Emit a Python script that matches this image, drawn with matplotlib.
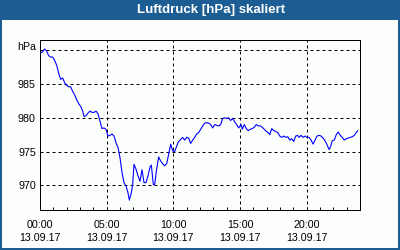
import matplotlib
matplotlib.use("Agg")
import matplotlib.pyplot as plt
from matplotlib.patches import Rectangle
from matplotlib.ticker import MultipleLocator, FixedLocator

# pressure readings, 13.09.17 (hours since midnight, hPa)
hours = [
    0.05, 0.20, 0.35, 0.50, 0.65, 0.80, 0.95, 1.10, 1.25, 1.40, 1.55, 1.70, 1.85, 2.00,
    2.15, 2.30, 2.45, 2.60, 2.75, 2.90, 3.05, 3.20, 3.30, 3.45, 3.60, 3.75, 3.90, 4.05,
    4.20, 4.35, 4.50, 4.65, 4.80, 4.95, 5.10, 5.25, 5.40, 5.55, 5.70, 5.85, 6.00, 6.15,
    6.30, 6.45, 6.60, 6.70, 6.85, 6.95, 7.05, 7.20, 7.35, 7.50, 7.65, 7.80, 7.95, 8.10,
    8.25, 8.35, 8.50, 8.60, 8.75, 8.90, 9.05, 9.20, 9.35, 9.50, 9.65, 9.80, 9.95, 10.10,
    10.25, 10.40, 10.60, 10.70, 10.85, 11.00, 11.15, 11.30, 11.45, 11.60, 11.75, 11.90,
    12.05, 12.20, 12.35, 12.50, 12.65, 12.80, 12.95, 13.10, 13.25, 13.40, 13.55, 13.70,
    13.85, 14.00, 14.15, 14.30, 14.45, 14.60, 14.75, 14.90, 15.08, 15.17, 15.32, 15.47,
    15.62, 15.77, 15.92, 16.07, 16.22, 16.37, 16.52, 16.67, 16.82, 16.97, 17.12, 17.23,
    17.38, 17.53, 17.68, 17.83, 17.98, 18.13, 18.28, 18.43, 18.58, 18.73, 18.88, 19.03,
    19.18, 19.33, 19.43, 19.58, 19.73, 19.88, 20.03, 20.18, 20.33, 20.48, 20.63, 20.78,
    20.93, 21.08, 21.23, 21.38, 21.53, 21.68, 21.77, 21.92, 22.07, 22.22, 22.37, 22.52,
    22.67, 22.82, 22.97, 23.12, 23.27, 23.42, 23.57, 23.72, 23.83,
]
pressure = [
    989.6, 989.8, 990.2, 989.9, 989.2, 989.0, 989.0, 988.5, 987.8, 986.6, 985.7, 985.9, 985.2, 984.8,
    984.6, 984.6, 983.9, 983.4, 982.7, 982.1, 981.7, 981.0, 980.2, 980.3, 980.7, 981.0, 980.8, 980.8,
    981.0, 980.6, 979.5, 978.4, 978.5, 978.3, 977.3, 977.4, 977.6, 977.3, 976.3, 975.6, 974.1, 971.9,
    970.4, 969.9, 968.9, 967.8, 968.9, 970.1, 973.1, 972.4, 971.4, 970.6, 972.3, 970.4, 970.4, 971.4,
    972.7, 973.0, 970.1, 970.1, 972.4, 974.2, 973.6, 973.2, 972.9, 973.2, 974.6, 976.1, 975.1, 975.0,
    975.8, 976.5, 976.9, 977.1, 976.7, 977.1, 977.0, 976.2, 976.7, 977.1, 977.6, 977.8,
    978.3, 978.8, 979.2, 979.3, 979.2, 979.0, 978.5, 979.0, 978.9, 978.8, 979.0, 979.9,
    980.0, 979.9, 980.0, 979.6, 979.9, 979.4, 979.0, 978.5, 979.0, 978.3, 979.0, 978.4,
    978.1, 978.3, 978.4, 978.6, 979.0, 978.8, 978.8, 978.6, 978.3, 978.0, 977.8, 977.5,
    978.4, 978.1, 978.0, 977.8, 977.3, 977.1, 977.3, 977.1, 977.2, 976.7, 976.9, 976.5,
    977.3, 977.4, 977.1, 977.4, 977.1, 977.3, 977.1, 977.1, 976.7, 976.1, 976.7, 977.3,
    977.4, 977.3, 977.0, 976.6, 976.0, 975.3, 975.6, 976.6, 976.7, 977.5, 977.9, 977.4,
    977.1, 976.7, 976.9, 977.0, 977.1, 977.2, 977.4, 977.8, 978.1,
]

tick_hours = [0, 5, 10, 15, 20]
tick_labels = ["00:00\n13.09.17", "05:00\n13.09.17", "10:00\n13.09.17",
               "15:00\n13.09.17", "20:00\n13.09.17"]
y_ticks = [970, 975, 980, 985, 990]
y_labels = ["970", "975", "980", "985", ""]

TITLE_BLUE = "#1c5e93"
PANEL = "#fcfefc"
plt.rcParams["font.family"] = ["Liberation Sans", "DejaVu Sans"]

fig = plt.figure(figsize=(4, 2.5), dpi=100, facecolor=TITLE_BLUE)
# white panel inside the blue frame / title bar
fig.patches.append(Rectangle((2 / 400, 2 / 250), 396 / 400, 228 / 250,
                             transform=fig.transFigure, facecolor=PANEL,
                             edgecolor="none", zorder=-1))
fig.text(211 / 400, 1 - 10 / 250, "Luftdruck [hPa] skaliert", color="white",
         fontsize=9.5, fontweight="bold", ha="center", va="center")

ax = fig.add_axes([0.1, 0.16, 0.8, 0.68])
ax.set_zorder(2)
ax.set_facecolor(PANEL)
ax.plot(hours, pressure, color="#0000ff", linewidth=0.8, zorder=3)

ax.set_xlim(0, 24)
ax.set_ylim(966.34, 991.53)

ax.set_xticks(tick_hours, tick_labels)
ax.xaxis.set_minor_locator(MultipleLocator(1))
ax.set_yticks(y_ticks, y_labels)
ax.tick_params(axis="x", which="both", direction="in", length=2.5, width=0.72,
               color="black", labelsize=7.7, pad=7)
ax.tick_params(axis="y", length=0, labelsize=7.7, pad=3)
for lbl in ax.get_xticklabels():
    lbl.set_linespacing(1.35)

ax.grid(True, which="major", color="black", linewidth=0.72, linestyle=(0, (3, 3)))
for side in ax.spines.values():
    side.set_linewidth(0.72)
    side.set_color("black")

fig.text(36 / 400, 1 - 50 / 250, "hPa", fontsize=7.7, ha="right", va="baseline",
         zorder=3)

fig.savefig("out.png", dpi=100, facecolor=TITLE_BLUE)
